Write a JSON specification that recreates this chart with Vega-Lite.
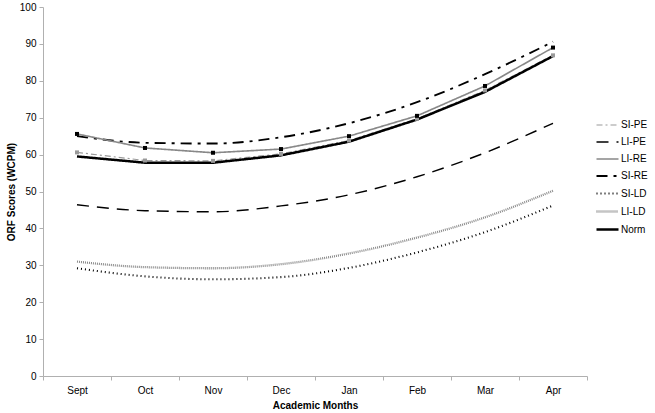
{
  "$schema": "https://vega.github.io/schema/vega-lite/v6.json",
  "width": 544,
  "height": 369,
  "autosize": {"type": "none"},
  "padding": {"left": 43, "top": 7, "right": 68, "bottom": 37},
  "background": "white",
  "config": {
    "view": {"stroke": null},
    "font": "Liberation Sans",
    "axis": {"grid": false, "labelFont": "Liberation Sans", "titleFont": "Liberation Sans", "labelColor": "#000", "titleColor": "#000", "domainColor": "#b0b0b0", "tickColor": "#b0b0b0", "labelFontSize": 10, "titleFontSize": 10, "titleFontWeight": "bold"},
    "legend": {"labelFont": "Liberation Sans", "labelFontSize": 10, "labelColor": "#000"}
  },
  "data": {"values": [
    {"month": "Sept", "series": "SI-PE", "value": 60.6},
    {"month": "Oct", "series": "SI-PE", "value": 58.4},
    {"month": "Nov", "series": "SI-PE", "value": 58.3},
    {"month": "Dec", "series": "SI-PE", "value": 60.2},
    {"month": "Jan", "series": "SI-PE", "value": 63.8},
    {"month": "Feb", "series": "SI-PE", "value": 69.7},
    {"month": "Mar", "series": "SI-PE", "value": 77.4},
    {"month": "Apr", "series": "SI-PE", "value": 86.9},
    {"month": "Sept", "series": "LI-PE", "value": 46.4},
    {"month": "Oct", "series": "LI-PE", "value": 44.8},
    {"month": "Nov", "series": "LI-PE", "value": 44.5},
    {"month": "Dec", "series": "LI-PE", "value": 46.1},
    {"month": "Jan", "series": "LI-PE", "value": 49.1},
    {"month": "Feb", "series": "LI-PE", "value": 54.0},
    {"month": "Mar", "series": "LI-PE", "value": 60.5},
    {"month": "Apr", "series": "LI-PE", "value": 68.5},
    {"month": "Sept", "series": "LI-RE", "value": 65.6},
    {"month": "Oct", "series": "LI-RE", "value": 61.8},
    {"month": "Nov", "series": "LI-RE", "value": 60.5},
    {"month": "Dec", "series": "LI-RE", "value": 61.5},
    {"month": "Jan", "series": "LI-RE", "value": 65.0},
    {"month": "Feb", "series": "LI-RE", "value": 70.5},
    {"month": "Mar", "series": "LI-RE", "value": 78.6},
    {"month": "Apr", "series": "LI-RE", "value": 89.0},
    {"month": "Sept", "series": "SI-RE", "value": 65.0},
    {"month": "Oct", "series": "SI-RE", "value": 63.2},
    {"month": "Nov", "series": "SI-RE", "value": 63.0},
    {"month": "Dec", "series": "SI-RE", "value": 64.7},
    {"month": "Jan", "series": "SI-RE", "value": 68.5},
    {"month": "Feb", "series": "SI-RE", "value": 74.2},
    {"month": "Mar", "series": "SI-RE", "value": 81.8},
    {"month": "Apr", "series": "SI-RE", "value": 90.6},
    {"month": "Sept", "series": "SI-LD", "value": 29.2},
    {"month": "Oct", "series": "SI-LD", "value": 27.0},
    {"month": "Nov", "series": "SI-LD", "value": 26.2},
    {"month": "Dec", "series": "SI-LD", "value": 26.8},
    {"month": "Jan", "series": "SI-LD", "value": 29.3},
    {"month": "Feb", "series": "SI-LD", "value": 33.5},
    {"month": "Mar", "series": "SI-LD", "value": 39.0},
    {"month": "Apr", "series": "SI-LD", "value": 46.2},
    {"month": "Sept", "series": "LI-LD", "value": 31.0},
    {"month": "Oct", "series": "LI-LD", "value": 29.5},
    {"month": "Nov", "series": "LI-LD", "value": 29.2},
    {"month": "Dec", "series": "LI-LD", "value": 30.3},
    {"month": "Jan", "series": "LI-LD", "value": 33.2},
    {"month": "Feb", "series": "LI-LD", "value": 37.5},
    {"month": "Mar", "series": "LI-LD", "value": 43.0},
    {"month": "Apr", "series": "LI-LD", "value": 50.2},
    {"month": "Sept", "series": "Norm", "value": 59.5},
    {"month": "Oct", "series": "Norm", "value": 57.8},
    {"month": "Nov", "series": "Norm", "value": 57.8},
    {"month": "Dec", "series": "Norm", "value": 59.8},
    {"month": "Jan", "series": "Norm", "value": 63.5},
    {"month": "Feb", "series": "Norm", "value": 69.5},
    {"month": "Mar", "series": "Norm", "value": 77.0},
    {"month": "Apr", "series": "Norm", "value": 86.7}
  ]},
  "encoding": {
    "x": {"field": "month", "type": "nominal", "sort": ["Sept", "Oct", "Nov", "Dec", "Jan", "Feb", "Mar", "Apr"],
      "scale": {"type": "band", "paddingInner": 0, "paddingOuter": 0},
      "bandPosition": 0.5,
      "axis": {"title": "Academic Months", "labelAngle": 0, "tickBand": "extent", "tickSize": 4, "labelPadding": 5, "titlePadding": 5}},
    "y": {"field": "value", "type": "quantitative", "scale": {"domain": [0, 100], "nice": false},
      "axis": {"title": "ORF Scores (WCPM)", "values": [0, 10, 20, 30, 40, 50, 60, 70, 80, 90, 100], "tickSize": 4, "labelPadding": 3, "titlePadding": 3}}
  },
  "layer": [
    {
      "transform": [{"filter": "indexof(['SI-RE','LI-PE','SI-LD','LI-LD'], datum.series) >= 0"}],
      "mark": {"type": "line", "interpolate": "monotone"},
      "encoding": {
        "color": {"field": "series", "type": "nominal", "scale": {"domain": ["SI-PE", "LI-PE", "LI-RE", "SI-RE", "SI-LD", "LI-LD", "Norm"], "range": ["#9a9a9a", "#000000", "#888888", "#000000", "#000000", "#8a8a8a", "#000000"]},
          "legend": {"title": null, "orient": "none", "legendX": 552, "legendY": 106, "symbolType": "stroke", "symbolSize": 484, "rowPadding": -8.2, "labelOffset": 1, "symbolOffset": 0}},
        "strokeDash": {"field": "series", "type": "nominal", "scale": {"domain": ["SI-PE", "LI-PE", "LI-RE", "SI-RE", "SI-LD", "LI-LD", "Norm"], "range": [[6, 3, 2, 3], [12, 8], [1, 0], [11, 6, 3, 6], [1, 3], [1, 1], [1, 0]]}},
        "strokeWidth": {"field": "series", "type": "nominal", "scale": {"domain": ["SI-PE", "LI-PE", "LI-RE", "SI-RE", "SI-LD", "LI-LD", "Norm"], "range": [1.2, 2.5, 1.6, 2.5, 1, 1, 2]}}
      }
    },
    {
      "transform": [{"filter": "indexof(['SI-PE','LI-RE','Norm'], datum.series) >= 0"}],
      "mark": {"type": "line", "interpolate": "linear"},
      "encoding": {
        "color": {"field": "series", "type": "nominal"},
        "strokeDash": {"field": "series", "type": "nominal"},
        "strokeWidth": {"field": "series", "type": "nominal"}
      }
    },
    {
      "transform": [{"filter": "datum.series == 'SI-PE'"}],
      "mark": {"type": "square", "size": 16, "filled": true, "color": "#9a9a9a", "opacity": 1},
      "encoding": {}
    },
    {
      "transform": [{"filter": "datum.series == 'LI-RE'"}],
      "mark": {"type": "square", "size": 16, "filled": true, "color": "#000000", "opacity": 1},
      "encoding": {}
    }
  ]
}
